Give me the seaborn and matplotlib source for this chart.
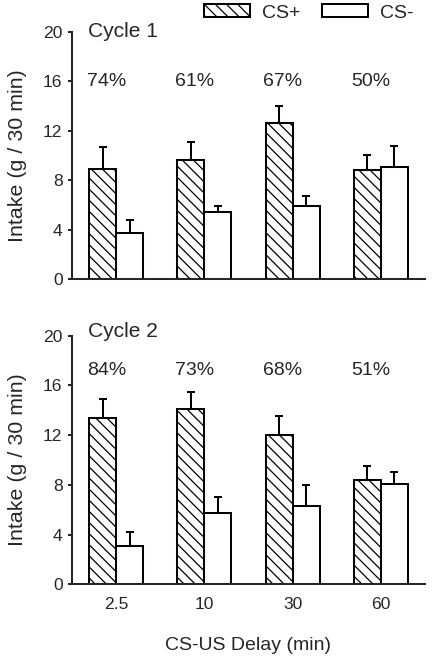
import matplotlib
matplotlib.use("Agg")
import matplotlib.pyplot as plt
import matplotlib.patches as mpatches
import pandas as pd
import seaborn as sns

# Values
delays = ["2.5", "10", "30", "60"]
groups = ["CS+", "CS-"]

c1_cs_plus = [8.9, 9.6, 12.6, 8.8]
c1_cs_plus_sem = [1.8, 1.5, 1.4, 1.2]
c1_cs_minus = [3.7, 5.4, 5.9, 9.1]
c1_cs_minus_sem = [1.1, 0.5, 0.8, 1.7]
c1_pct = ["74%", "61%", "67%", "50%"]

c2_cs_plus = [13.4, 14.1, 12.0, 8.4]
c2_cs_plus_sem = [1.5, 1.4, 1.5, 1.1]
c2_cs_minus = [3.1, 5.7, 6.3, 8.1]
c2_cs_minus_sem = [1.1, 1.35, 1.65, 0.95]
c2_pct = ["84%", "73%", "68%", "51%"]

DPI = 100
W, H = 432, 663
HATCH = "\\\\\\"  # three backslashes -> about 11 px between lines

sns.set_style("ticks")
plt.rcParams["font.family"] = ["Liberation Sans", "DejaVu Sans"]
plt.rcParams["hatch.linewidth"] = 0.9

FS_TICK = 12.6
FS_TXT = 14
FS_CYC = 15.1
FS_YLAB = 15.4
LW = 1.45


def make_df(plus, minus):
    return pd.DataFrame({
        "delay": delays * 2,
        "cs": ["CS+"] * 4 + ["CS-"] * 4,
        "intake": plus + minus,
    })


def draw_panel(ax, plus, plus_sem, minus, minus_sem, pct, cycle, pct_y, cyc_y, bottom):
    df = make_df(plus, minus)
    sns.barplot(data=df, x="delay", y="intake", hue="cs", order=delays,
                hue_order=groups, palette=["white", "white"], edgecolor="black",
                linewidth=LW, width=0.61, errorbar=None, legend=False, ax=ax)
    for bar in ax.containers[0]:
        bar.set_hatch(HATCH)
    # upper-only error bars
    for cont, sems in zip(ax.containers, [plus_sem, minus_sem]):
        for bar, s in zip(cont, sems):
            xc = bar.get_x() + bar.get_width() / 2
            h = bar.get_height()
            ax.errorbar(xc, h, yerr=[[0], [s]], fmt="none", ecolor="black",
                        elinewidth=LW, capsize=2.6, capthick=LW, zorder=1)
    for i, p in enumerate(pct):
        ax.text(i - 0.11, pct_y, p, ha="center", va="center", fontsize=FS_TXT)
    ax.text(-0.32, cyc_y, cycle, ha="left", va="center", fontsize=FS_CYC)

    ax.set_xlim(-0.5, 3.5)
    ax.set_ylim(0, 20)
    ax.set_yticks([0, 4, 8, 12, 16, 20])
    ax.tick_params(axis="y", labelsize=FS_TICK, length=2.9, width=LW, pad=3.9)
    ax.set_ylabel("Intake (g / 30 min)", fontsize=FS_YLAB)
    ax.yaxis.set_label_coords(-0.128, 0.5)
    sns.despine(ax=ax)
    ax.spines["left"].set_linewidth(LW)
    ax.spines["bottom"].set_linewidth(LW)
    if bottom:
        ax.tick_params(axis="x", labelsize=FS_TICK, length=0, pad=9.3)
        ax.set_xlabel("CS-US Delay (min)", fontsize=FS_TXT)
        ax.xaxis.set_label_coords(0.5, -0.21)
    else:
        ax.tick_params(axis="x", length=0, labelbottom=False)
        ax.set_xlabel("")


fig = plt.figure(figsize=(W / DPI, H / DPI), dpi=DPI)
ax1 = fig.add_axes([0.1667, 0.579, 0.817, 0.373])
ax2 = fig.add_axes([0.1667, 0.1187, 0.817, 0.375])

draw_panel(ax1, c1_cs_plus, c1_cs_plus_sem, c1_cs_minus, c1_cs_minus_sem,
           c1_pct, "Cycle 1", 16.0, 20.0, False)
draw_panel(ax2, c2_cs_plus, c2_cs_plus_sem, c2_cs_minus, c2_cs_minus_sem,
           c2_pct, "Cycle 2", 17.2, 20.3, True)

handles = [
    mpatches.Patch(facecolor="white", edgecolor="black", linewidth=LW, hatch=HATCH, label="CS+"),
    mpatches.Patch(facecolor="white", edgecolor="black", linewidth=LW, label="CS-"),
]
fig.legend(handles=handles, loc="center left", bbox_to_anchor=(204 / W, 1 - 13 / H),
           ncol=2, frameon=False, fontsize=FS_TXT, handlelength=2.36, handleheight=0.61,
           handletextpad=0.62, columnspacing=1.13, borderpad=0, borderaxespad=0)

fig.savefig("out.png", dpi=DPI)
